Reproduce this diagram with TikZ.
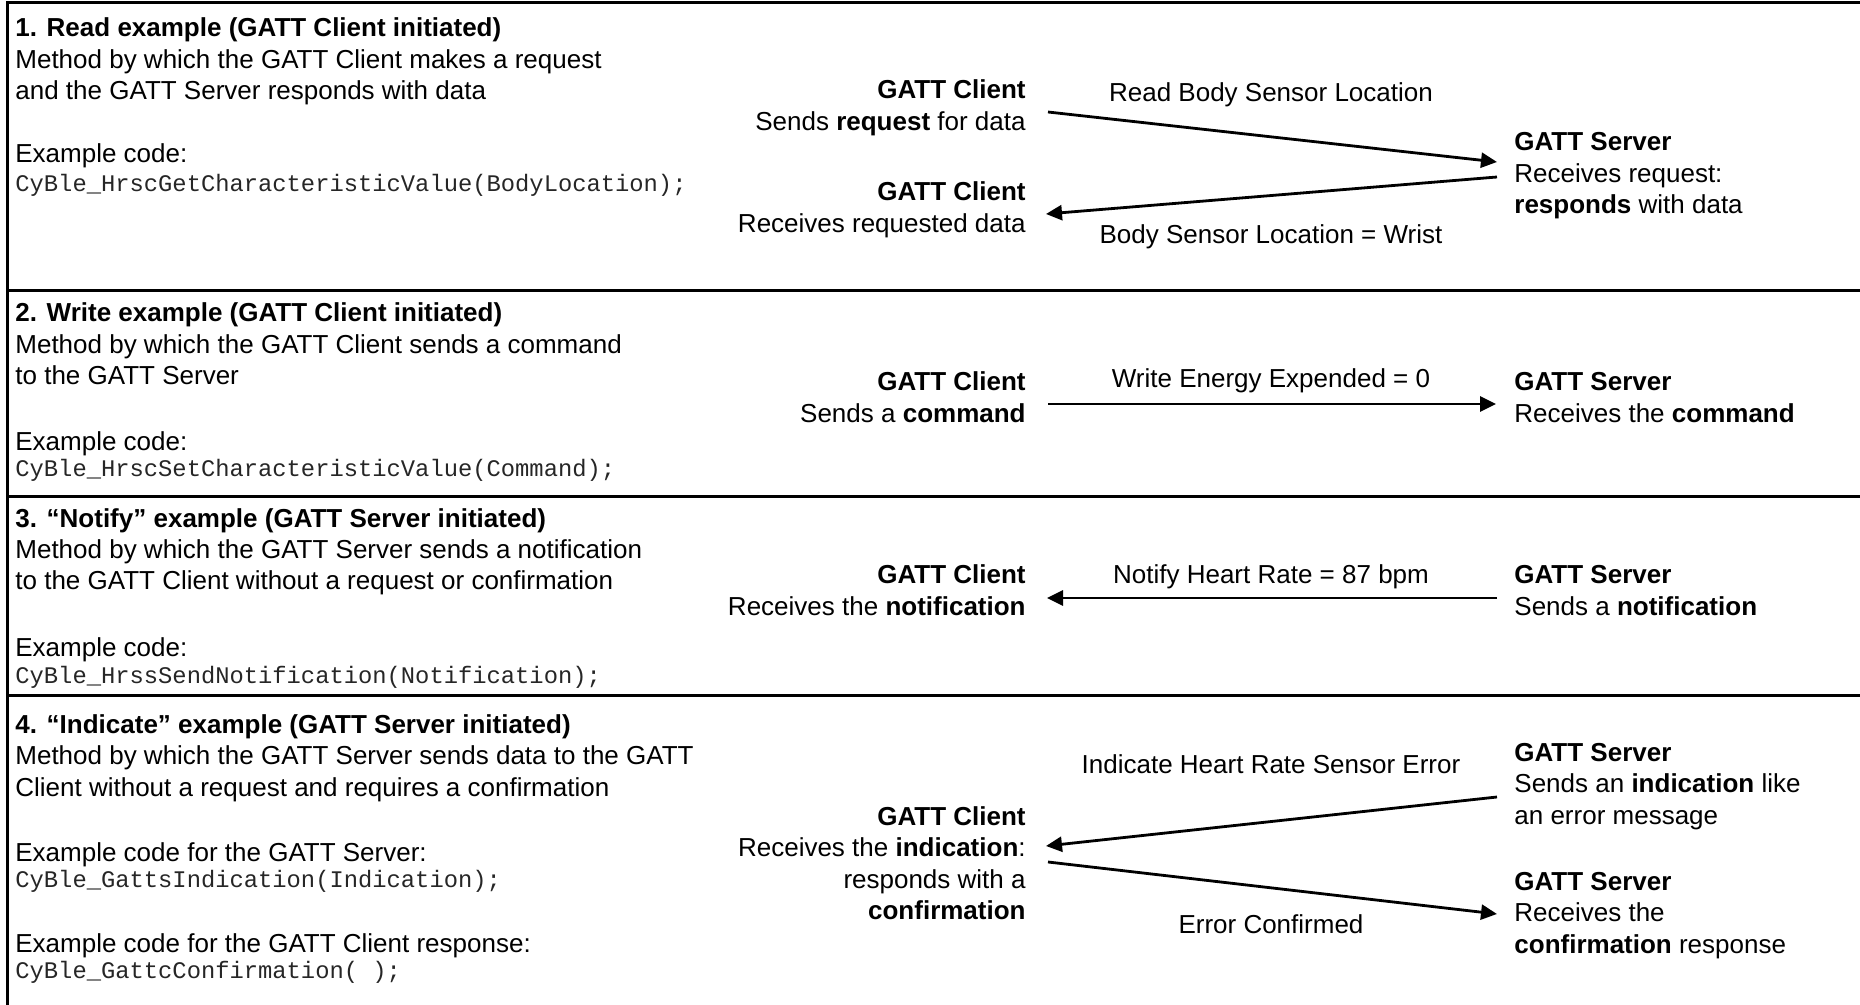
\documentclass[tikz,border=0pt]{standalone}
\usepackage{fontspec}
\setmainfont{Liberation Sans}
\setmonofont{Liberation Mono}
\usetikzlibrary{arrows.meta}
\begin{document}
\begin{tikzpicture}[x=0.5pt,y=-0.5pt,
  txt/.style={inner sep=0pt, font=\fontsize{13}{15.75}\selectfont},
  lt/.style={txt, anchor=base west, align=left},
  rt/.style={txt, anchor=base east, align=right},
  lbl/.style={txt, anchor=base},
  code/.style={inner sep=0pt, anchor=base west, font=\fontsize{11.9}{14}\selectfont\ttfamily, text=black!85},
  frameline/.style={line width=1.5pt},
  msg/.style={line width=1.4pt, -{Triangle[length=8pt,width=7.5pt]}}
]
\useasboundingbox (0,0) rectangle (1860,1005);
\begin{scope}
\clip (0,0) rectangle (1860,1005);
\draw[frameline] (1880,3) -- (7,3) -- (7,1020);
\draw[frameline] (7,291) -- (1880,291);
\draw[frameline] (7,497) -- (1880,497);
\draw[frameline] (7,696) -- (1880,696);
\end{scope}

% (multi-line nodes: base anchor = baseline of last line)
% ---- Section 1
\node[lt] (h1) at (15,100) {\textbf{1. Read example (GATT Client initiated)}\\Method by which the GATT Client makes a request\\and the GATT Server responds with data};
\node[lt] (ex1) at (15,163) {Example code:};
\node[code] (c1) at (15,192) {CyBle\_HrscGetCharacteristicValue(BodyLocation);};

\node[rt] (cl1) at (1026,130.5) {\textbf{GATT Client}\\Sends \textbf{request} for data};
\node[lbl] (l1) at (1271,102) {Read Body Sensor Location};
\node[lt] (sv1) at (1514,214) {\textbf{GATT Server}\\Receives request:\\\textbf{responds} with data};
\node[rt] (cl1b) at (1026,232.5) {\textbf{GATT Client}\\Receives requested data};
\node[lbl] (l1b) at (1271,244) {Body Sensor Location = Wrist};
\coordinate (a1s) at (1048,112);
\coordinate (a1e) at (1497,162);
\coordinate (a2s) at (1497,177);
\coordinate (a2e) at (1046,214);
\draw[msg] (a1s) -- (a1e);
\draw[msg] (a2s) -- (a2e);

% ---- Section 2
\node[lt] (h2) at (15,385) {\textbf{2. Write example (GATT Client initiated)}\\Method by which the GATT Client sends a command\\to the GATT Server};
\node[lt] (ex2) at (15,451) {Example code:};
\node[code] (c2) at (15,477) {CyBle\_HrscSetCharacteristicValue(Command);};

\node[rt] (cl2) at (1026,422.5) {\textbf{GATT Client}\\Sends a \textbf{command}};
\node[lbl] (l2) at (1271,388) {Write Energy Expended = 0};
\node[lt] (sv2) at (1514,422.5) {\textbf{GATT Server}\\Receives the \textbf{command}};
\coordinate (b1s) at (1048,404);
\coordinate (b1e) at (1496,404);
\draw[msg] (b1s) -- (b1e);

% ---- Section 3
\node[lt] (h3) at (15,590) {\textbf{3. “Notify” example (GATT Server initiated)}\\Method by which the GATT Server sends a notification\\to the GATT Client without a request or confirmation};
\node[lt] (ex3) at (15,657) {Example code:};
\node[code] (c3) at (15,683) {CyBle\_HrssSendNotification(Notification);};

\node[rt] (cl3) at (1026,615.5) {\textbf{GATT Client}\\Receives the \textbf{notification}};
\node[lbl] (l3) at (1271,584) {Notify Heart Rate = 87 bpm};
\node[lt] (sv3) at (1514,615.5) {\textbf{GATT Server}\\Sends a \textbf{notification}};
\coordinate (n1s) at (1497,598);
\coordinate (n1e) at (1047,598);
\draw[msg] (n1s) -- (n1e);

% ---- Section 4
\node[lt] (h4) at (15,796) {\textbf{4. “Indicate” example (GATT Server initiated)}\\Method by which the GATT Server sends data to the GATT\\Client without a request and requires a confirmation};
\node[lt] (ex4) at (15,861) {Example code for the GATT Server:};
\node[code] (c4) at (15,887) {CyBle\_GattsIndication(Indication);};
\node[lt] (ex5) at (15,952) {Example code for the GATT Client response:};
\node[code] (c5) at (15,978) {CyBle\_GattcConfirmation( );};

\node[lt] (sv4a) at (1514,824) {\textbf{GATT Server}\\Sends an \textbf{indication} like\\an error message};
\node[lbl] (l4a) at (1271,773) {Indicate Heart Rate Sensor Error};
\node[rt] (cl4) at (1026,919.5) {\textbf{GATT Client}\\Receives the \textbf{indication}:\\responds with a\\\textbf{confirmation}};
\node[lbl] (l4b) at (1271,933) {Error Confirmed};
\node[lt] (sv4b) at (1514,953) {\textbf{GATT Server}\\Receives the\\\textbf{confirmation} response};
\coordinate (i1s) at (1497,797);
\coordinate (i1e) at (1046,846);
\coordinate (i2s) at (1048,862);
\coordinate (i2e) at (1497,914);
\draw[msg] (i1s) -- (i1e);
\draw[msg] (i2s) -- (i2e);
\end{tikzpicture}
\end{document}
